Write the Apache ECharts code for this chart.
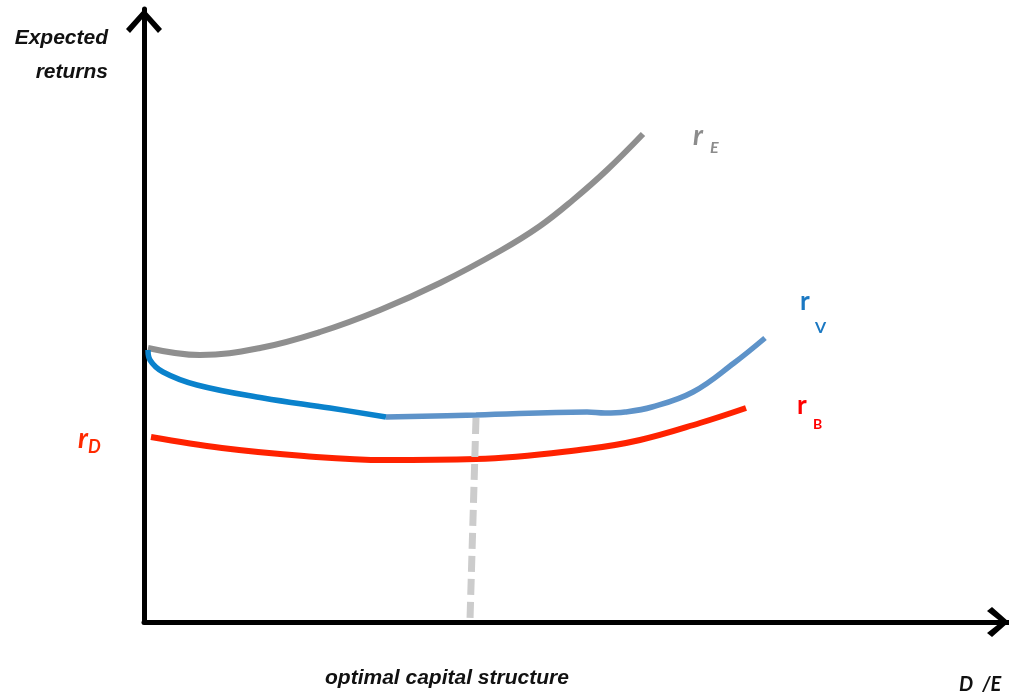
<!DOCTYPE html>
<html>
<head>
<meta charset="utf-8">
<script src="https://cdn.jsdelivr.net/npm/echarts@6/dist/echarts.min.js"></script>
<style>html,body{margin:0;padding:0;background:#fff;}#c{width:1009px;height:692px;}</style>
</head>
<body>
<div id="c"></div>
<script>
// Values (axis units: x 0..865 along D/E, y 0..613 along expected returns)
const rE = [[4,274],[56,267],[116,274],[176,290],[236,312],[296,339],[356,371],[396,396],[429,422],[463,452],[499,488]];
const rVfalling = [[4,272],[6,262],[19,250],[53,237],[119,224],[186,214],[242,205]];
const rVflatRising = [[242,205],[332,207],[443,210],[461,209],[481,210],[508,215],[549,230],[590,259],[621,284]];
const rB = [[7,185],[78,174],[160,166],[242,162],[332,163],[443,173],[496,182],[556,199],[602,214]];
const optimalLine = [[332,204],[326,2]];

const chart = echarts.init(document.getElementById('c'), null, {renderer: 'canvas'});
const upChevron = 'path://M18,0 L36,20 L32,24 L18,8 L4,24 L0,20 Z';
const rightChevron = 'path://M15,0 L30,17 L26,22 L15,8 L4,22 L0,17 Z';

const ital = 'italic bold ';
const SMOOTH = 0.4;
function txt(text, x, y, font, fill) {
  return {type: 'text', style: {text: text, x: x, y: y, textAlign: 'left', textVerticalAlign: 'top', font: font, fill: fill}};
}
chart.setOption({
  animation: false,
  backgroundColor: '#ffffff',
  grid: {left: 144, right: 0, top: 9, bottom: 70},
  xAxis: {
    type: 'value', min: 0, max: 865,
    axisLine: {show: true, lineStyle: {color: '#000', width: 5}, symbol: ['none', rightChevron], symbolSize: [30, 22], symbolOffset: [0, -11]},
    axisTick: {show: false}, axisLabel: {show: false}, splitLine: {show: false}
  },
  yAxis: {
    type: 'value', min: 0, max: 613,
    axisLine: {show: true, lineStyle: {color: '#000', width: 5}, symbol: ['none', upChevron], symbolSize: [36, 24], symbolOffset: [0, -12]},
    axisTick: {show: false}, axisLabel: {show: false}, splitLine: {show: false}
  },
  series: [
    {type: 'line', data: rB, smooth: SMOOTH, showSymbol: false, lineStyle: {color: '#ff2200', width: 6}, z: 2},
    {type: 'line', data: optimalLine, showSymbol: false, lineStyle: {color: '#cccccc', width: 7, type: [16, 7]}, z: 3},
    {type: 'line', data: rE, smooth: SMOOTH, showSymbol: false, lineStyle: {color: '#8f8f8f', width: 6}, z: 2},
    {type: 'line', data: rVfalling, smooth: SMOOTH, showSymbol: false, lineStyle: {color: '#0a82cc', width: 5.5}, z: 4},
    {type: 'line', data: rVflatRising, smooth: SMOOTH, showSymbol: false, lineStyle: {color: '#5e93c9', width: 5.5}, z: 4}
  ],
  graphic: [
    {type: 'text', style: {text: 'Expected', x: 108, y: 28, textAlign: 'right', textVerticalAlign: 'top', font: ital + '21px "Liberation Sans", Arial', fill: '#111'}},
    {type: 'text', style: {text: 'returns', x: 108, y: 62, textAlign: 'right', textVerticalAlign: 'top', font: ital + '21px "Liberation Sans", Arial', fill: '#111'}},
    txt('optimal capital structure', 325, 668, ital + '21px "Liberation Sans", Arial', '#111'),
    txt('D  /E', 959, 675, ital + '20px Lato, "Open Sans"', '#111'),
    txt('r', 693, 122, ital + '28px Lato', '#8c8c8c'),
    txt('E', 710, 140, ital + '16px Lato', '#8c8c8c'),
    txt('r', 800, 289, 'bold 26px Lato', '#1a78c2'),
    txt('V', 815, 320, 'bold 16px Lato', '#1a78c2'),
    txt('r', 797, 393, 'bold 26px Lato', '#ff0000'),
    txt('B', 813, 417, 'bold 14px Lato', '#ff0000'),
    txt('r', 78, 425, ital + '28px Lato', '#ff2a00'),
    txt('D', 88, 438, ital + '18px Lato', '#ff2a00')
  ]
});
</script>
</body>
</html>
